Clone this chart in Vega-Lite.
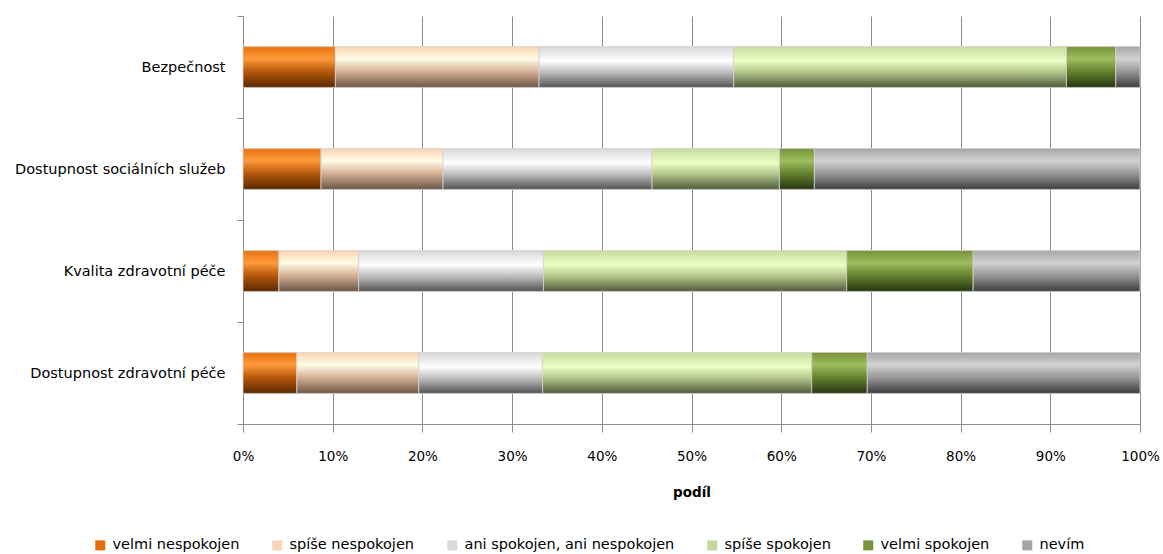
{
  "$schema": "https://vega.github.io/schema/vega-lite/v6.json",
  "width": 897,
  "height": 408,
  "autosize": {"type": "none"},
  "padding": {"left": 243, "top": 16, "right": 23, "bottom": 130},
  "config": {"font": "DejaVu Sans", "view": {"stroke": null}},
  "data": {"values": [
    {"oblast": "Bezpečnost", "odpoved": "velmi nespokojen", "podil": 10.3},
    {"oblast": "Bezpečnost", "odpoved": "spíše nespokojen", "podil": 22.7},
    {"oblast": "Bezpečnost", "odpoved": "ani spokojen, ani nespokojen", "podil": 21.7},
    {"oblast": "Bezpečnost", "odpoved": "spíše spokojen", "podil": 37.1},
    {"oblast": "Bezpečnost", "odpoved": "velmi spokojen", "podil": 5.5},
    {"oblast": "Bezpečnost", "odpoved": "nevím", "podil": 2.7},
    {"oblast": "Dostupnost sociálních služeb", "odpoved": "velmi nespokojen", "podil": 8.7},
    {"oblast": "Dostupnost sociálních služeb", "odpoved": "spíše nespokojen", "podil": 13.6},
    {"oblast": "Dostupnost sociálních služeb", "odpoved": "ani spokojen, ani nespokojen", "podil": 23.3},
    {"oblast": "Dostupnost sociálních služeb", "odpoved": "spíše spokojen", "podil": 14.2},
    {"oblast": "Dostupnost sociálních služeb", "odpoved": "velmi spokojen", "podil": 3.9},
    {"oblast": "Dostupnost sociálních služeb", "odpoved": "nevím", "podil": 36.3},
    {"oblast": "Kvalita zdravotní péče", "odpoved": "velmi nespokojen", "podil": 4.0},
    {"oblast": "Kvalita zdravotní péče", "odpoved": "spíše nespokojen", "podil": 8.9},
    {"oblast": "Kvalita zdravotní péče", "odpoved": "ani spokojen, ani nespokojen", "podil": 20.6},
    {"oblast": "Kvalita zdravotní péče", "odpoved": "spíše spokojen", "podil": 33.8},
    {"oblast": "Kvalita zdravotní péče", "odpoved": "velmi spokojen", "podil": 14.1},
    {"oblast": "Kvalita zdravotní péče", "odpoved": "nevím", "podil": 18.6},
    {"oblast": "Dostupnost zdravotní péče", "odpoved": "velmi nespokojen", "podil": 6.0},
    {"oblast": "Dostupnost zdravotní péče", "odpoved": "spíše nespokojen", "podil": 13.6},
    {"oblast": "Dostupnost zdravotní péče", "odpoved": "ani spokojen, ani nespokojen", "podil": 13.8},
    {"oblast": "Dostupnost zdravotní péče", "odpoved": "spíše spokojen", "podil": 30.0},
    {"oblast": "Dostupnost zdravotní péče", "odpoved": "velmi spokojen", "podil": 6.2},
    {"oblast": "Dostupnost zdravotní péče", "odpoved": "nevím", "podil": 30.4}
  ]},
  "transform": [
    {"stack": "podil", "groupby": ["oblast"], "offset": "normalize", "as": ["x0", "x1"]}
  ],
  "encoding": {
    "y": {
      "field": "oblast", "type": "nominal",
      "sort": ["Bezpečnost", "Dostupnost sociálních služeb", "Kvalita zdravotní péče", "Dostupnost zdravotní péče"],
      "scale": {"paddingInner": 0, "paddingOuter": 0},
      "axis": {"title": null, "tickBand": "extent", "tickSize": 6, "labelPadding": 12, "labelLimit": 320,
               "labelFontSize": 14.5, "labelColor": "#000000", "domainColor": "#8c8c8c", "tickColor": "#8c8c8c", "grid": false}
    },
    "x": {
      "field": "x0", "type": "quantitative",
      "scale": {"domain": [0, 1], "nice": false},
      "axis": {"title": "podíl", "format": ".0%", "values": [0, 0.1, 0.2, 0.3, 0.4, 0.5, 0.6, 0.7, 0.8, 0.9, 1],
               "grid": true, "gridColor": "#8c8c8c", "domainColor": "#8c8c8c", "tickColor": "#8c8c8c",
               "tickSize": 8, "labelPadding": 17, "labelFlush": false, "labelFontSize": 13.5, "labelColor": "#000000",
               "titleFontSize": 13.5, "titleFontWeight": "bold", "titleColor": "#000000", "titlePadding": 23}
    },
    "x2": {"field": "x1"}
  },
  "layer": [
    {
      "mark": {"type": "bar", "height": {"band": 0.4}},
      "encoding": {
        "color": {
          "field": "odpoved", "type": "nominal",
          "scale": {
            "domain": ["velmi nespokojen", "spíše nespokojen", "ani spokojen, ani nespokojen", "spíše spokojen", "velmi spokojen", "nevím"],
            "range": ["#e46c0a", "#fcd5b5", "#d9d9d9", "#c3d69b", "#77933c", "#a6a6a6"]
          },
          "legend": {"title": null, "orient": "none", "legendX": -150, "legendY": 522, "direction": "horizontal",
                     "symbolType": "square", "symbolSize": 100, "symbolStrokeWidth": 0, "labelFontSize": 14.5,
                     "labelColor": "#000000", "labelOffset": 5, "columnPadding": 30, "padding": 0, "labelLimit": 400}
        }
      }
    },
    {
      "transform": [{"filter": "datum.odpoved === 'velmi nespokojen'"}],
      "mark": {"type": "bar", "height": {"band": 0.4}, "stroke": "#d4d4d4", "strokeWidth": 0.8, "color": {"gradient": "linear", "x1": 0, "y1": 0, "x2": 0, "y2": 1,
        "stops": [{"offset": 0, "color": "#e8720f"}, {"offset": 0.3, "color": "#ff9a3c"}, {"offset": 0.6, "color": "#b85a0c"}, {"offset": 1, "color": "#5a2800"}]}}
    },
    {
      "transform": [{"filter": "datum.odpoved === 'spíše nespokojen'"}],
      "mark": {"type": "bar", "height": {"band": 0.4}, "stroke": "#d4d4d4", "strokeWidth": 0.8, "color": {"gradient": "linear", "x1": 0, "y1": 0, "x2": 0, "y2": 1,
        "stops": [{"offset": 0, "color": "#fbd3b0"}, {"offset": 0.3, "color": "#fffde6"}, {"offset": 0.6, "color": "#d8b398"}, {"offset": 1, "color": "#6b5545"}]}}
    },
    {
      "transform": [{"filter": "datum.odpoved === 'ani spokojen, ani nespokojen'"}],
      "mark": {"type": "bar", "height": {"band": 0.4}, "stroke": "#d4d4d4", "strokeWidth": 0.8, "color": {"gradient": "linear", "x1": 0, "y1": 0, "x2": 0, "y2": 1,
        "stops": [{"offset": 0, "color": "#d6d6d6"}, {"offset": 0.35, "color": "#ffffff"}, {"offset": 0.65, "color": "#b8b8b8"}, {"offset": 1, "color": "#525252"}]}}
    },
    {
      "transform": [{"filter": "datum.odpoved === 'spíše spokojen'"}],
      "mark": {"type": "bar", "height": {"band": 0.4}, "stroke": "#d4d4d4", "strokeWidth": 0.8, "color": {"gradient": "linear", "x1": 0, "y1": 0, "x2": 0, "y2": 1,
        "stops": [{"offset": 0, "color": "#c6da9c"}, {"offset": 0.35, "color": "#eeffc6"}, {"offset": 0.65, "color": "#aebf86"}, {"offset": 1, "color": "#4e5a38"}]}}
    },
    {
      "transform": [{"filter": "datum.odpoved === 'velmi spokojen'"}],
      "mark": {"type": "bar", "height": {"band": 0.4}, "stroke": "#d4d4d4", "strokeWidth": 0.8, "color": {"gradient": "linear", "x1": 0, "y1": 0, "x2": 0, "y2": 1,
        "stops": [{"offset": 0, "color": "#76923a"}, {"offset": 0.3, "color": "#9ebe5e"}, {"offset": 0.65, "color": "#5e7a2a"}, {"offset": 1, "color": "#283514"}]}}
    },
    {
      "transform": [{"filter": "datum.odpoved === 'nevím'"}],
      "mark": {"type": "bar", "height": {"band": 0.4}, "stroke": "#d4d4d4", "strokeWidth": 0.8, "color": {"gradient": "linear", "x1": 0, "y1": 0, "x2": 0, "y2": 1,
        "stops": [{"offset": 0, "color": "#a6a6a6"}, {"offset": 0.3, "color": "#d2d2d2"}, {"offset": 0.65, "color": "#8f8f8f"}, {"offset": 1, "color": "#3c3c3c"}]}}
    }
  ]
}
